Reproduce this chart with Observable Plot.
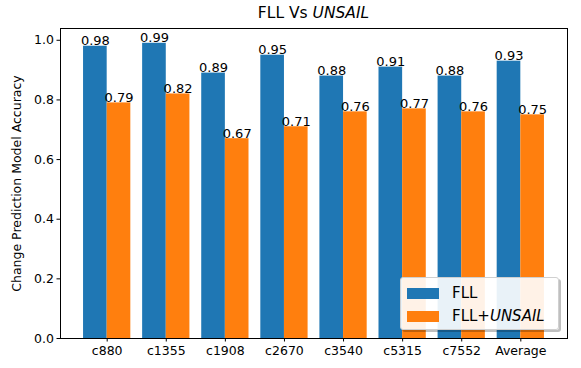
<!DOCTYPE html>
<html><head><meta charset="utf-8">
<script src="https://cdn.jsdelivr.net/npm/d3@7"></script>
<script src="https://cdn.jsdelivr.net/npm/@observablehq/plot@0.6"></script>
<style>
body{margin:0;background:#fff;font-family:"DejaVu Sans",sans-serif;}
#wrap{position:relative;width:581px;height:368px;}
#title{position:absolute;left:0;width:627px;text-align:center;top:3px;font-size:15.5px;line-height:20px;color:#000;white-space:nowrap;font-family:"DejaVu Sans";}
#legend{position:absolute;left:400px;top:277px;width:157px;height:51px;background:rgba(255,255,255,0.9);border:1px solid #d0d0d0;border-radius:3px;box-shadow:2px 2px 0 rgba(0,0,0,0.25);font-size:15px;font-family:"DejaVu Sans";}
.li{position:absolute;left:6px;height:14px;display:flex;align-items:center;}
.sw{width:32px;height:11px;margin-right:13px;}
</style></head>
<body><div id="wrap"></div>
<script>
const categories = ["c880","c1355","c1908","c2670","c3540","c5315","c7552","Average"];
const fllValues = [0.98,0.99,0.89,0.95,0.88,0.91,0.88,0.93];
const unsailValues = [0.79,0.82,0.67,0.71,0.76,0.77,0.76,0.75];
const seriesNames = ["FLL","FLL+UNSAIL"];
const seriesColors = ["#1f77b4","#ff7f0e"];
const yTicks = [0,0.2,0.4,0.6,0.8,1.0];

const rows = [];
categories.forEach((c,i)=>{
  rows.push({i, cat:c, s:0, v:fllValues[i]});
  rows.push({i, cat:c, s:1, v:unsailValues[i]});
});
const bw = 0.4;
const x1 = d => d.i - bw + d.s*bw;
const x2 = d => d.i + d.s*bw;
const xc = d => d.i - bw/2 + d.s*bw;

const chart = Plot.plot({
  width:581, height:368,
  marginLeft:60, marginRight:14, marginTop:28, marginBottom:30,
  style:{fontFamily:"DejaVu Sans", fontSize:"12.5px", color:"#000", background:"#fff"},
  x:{type:"linear", domain:[-0.79, categories.length-1+0.79]},
  y:{domain:[0,1.0395]},
  marks:[
    Plot.rectY(rows,{x1, x2, y1:0, y2:"v", fill:d=>seriesColors[d.s]}),
    Plot.text(rows,{x:xc, y:"v", text:d=>d.v.toFixed(2), lineAnchor:"bottom", dy:-1, fontSize:13, fill:"#000"}),
    Plot.frame({stroke:"#000", strokeWidth:1}),
    Plot.axisY({ticks:yTicks, tickFormat:".1f", tickSize:3.5, tickPadding:3, fontSize:12.5, label:null}),
    Plot.axisX({ticks:d3.range(categories.length), tickFormat:i=>categories[i], tickSize:3.5, tickPadding:4, fontSize:12.5, label:null}),
    Plot.text(["Change Prediction Model Accuracy"],{frameAnchor:"left", textAnchor:"middle", rotate:-90, dx:-44, fontSize:12.5, fill:"#000", lineAnchor:"middle"})
  ]
});
const wrap = document.getElementById("wrap");
wrap.appendChild(chart);
const t = document.createElement("div");
t.id="title";
t.innerHTML = "FLL Vs <i>UNSAIL</i>";
wrap.appendChild(t);
const lg = document.createElement("div");
lg.id="legend";
seriesNames.forEach((n,k)=>{
  const it=document.createElement("div");
  it.className="li";
  it.style.top=(k===0?8:31)+"px";
  const sw=document.createElement("span");sw.className="sw";sw.style.background=seriesColors[k];
  const tx=document.createElement("span");
  tx.innerHTML = n.replace("UNSAIL","<i>UNSAIL</i>");
  it.appendChild(sw);it.appendChild(tx);lg.appendChild(it);
});
wrap.appendChild(lg);
</script></body></html>
